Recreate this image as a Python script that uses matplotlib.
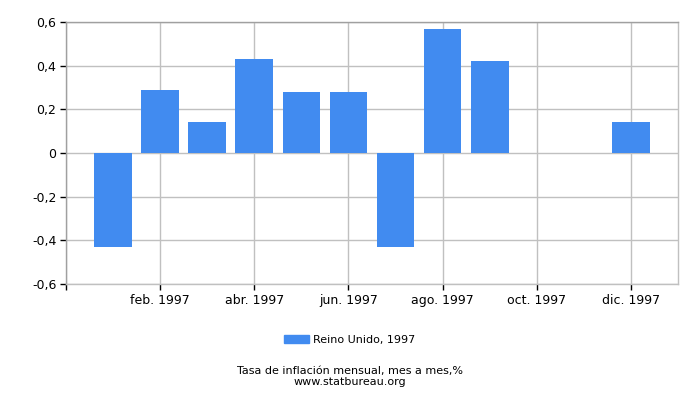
import numpy as np
import matplotlib
matplotlib.use("Agg")
import matplotlib.pyplot as plt
from matplotlib.patches import Patch

# monthly inflation, United Kingdom 1997 (month over month, %)
months = list(range(1, 13))
values = [-0.43, 0.29, 0.14, 0.43, 0.28, 0.28, -0.43, 0.57, 0.42, 0.0, 0.0, 0.14]
tick_months = [2, 4, 6, 8, 10, 12]
tick_labels = ["feb. 1997", "abr. 1997", "jun. 1997", "ago. 1997", "oct. 1997", "dic. 1997"]
y_ticks = [-0.6, -0.4, -0.2, 0.0, 0.2, 0.4, 0.6]
y_labels = ["-0,6", "-0,4", "-0,2", "0", "0,2", "0,4", "0,6"]

BAR_COLOR = "#418bf0"
GRID_COLOR = "#c0c0c0"

plt.rcParams["font.family"] = "DejaVu Sans"

fig = plt.figure(figsize=(7, 4), dpi=100)
ax = fig.add_axes([66 / 700, 1 - 284 / 400, 612 / 700, 262 / 400])

ax.bar(months, values, width=0.8, color=BAR_COLOR, zorder=3)

ax.set_xlim(0, 13)
ax.set_ylim(-0.6, 0.6)
ax.set_xticks([0] + tick_months)
ax.set_xticklabels([""] + tick_labels, fontsize=9)
ax.set_yticks(y_ticks)
ax.set_yticklabels(y_labels, fontsize=9)

ax.grid(True, color=GRID_COLOR, linewidth=1, zorder=0)
ax.set_axisbelow(True)
for side in ["top", "right", "left", "bottom"]:
    ax.spines[side].set_color(GRID_COLOR)
    ax.spines[side].set_linewidth(1)
ax.spines["top"].set_color("#a0a0a0")
ax.spines["left"].set_color("#a0a0a0")
ax.tick_params(axis="both", direction="out", length=4, width=1, color="black", pad=3)

fig.legend(handles=[Patch(color=BAR_COLOR)], labels=["Reino Unido, 1997"],
           loc="center", bbox_to_anchor=(0.5, 1 - 340 / 400), frameon=False,
           fontsize=8, handlelength=2.2, handleheight=0.7, handletextpad=0.4)

fig.text(0.5, 1 - 371 / 400, "Tasa de inflación mensual, mes a mes,%",
         ha="center", va="center", fontsize=8)
fig.text(0.5, 1 - 382 / 400, "www.statbureau.org",
         ha="center", va="center", fontsize=8)

fig.savefig("out.png", dpi=100)
